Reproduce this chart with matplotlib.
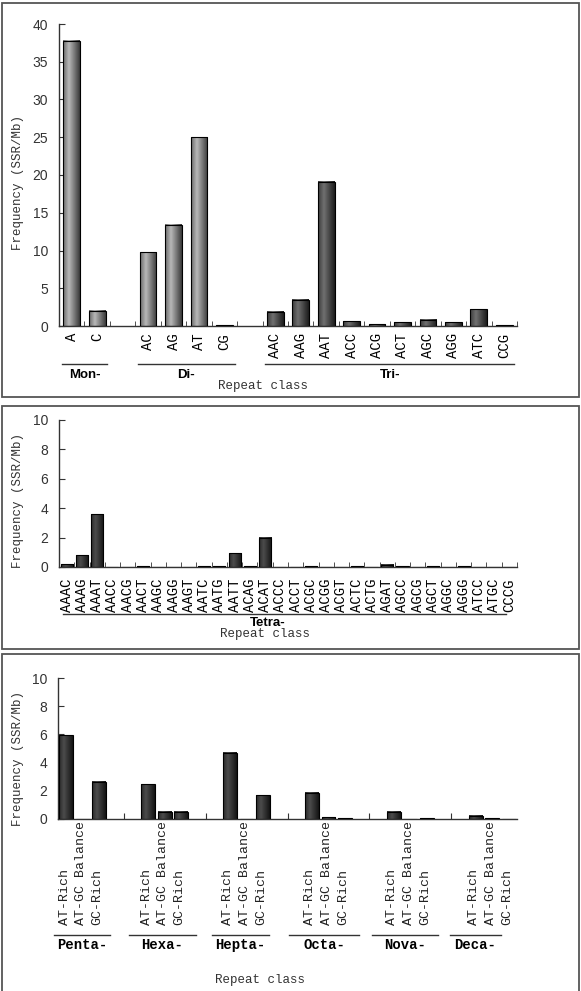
import numpy as np
import matplotlib
matplotlib.use('Agg')
import matplotlib.pyplot as plt
import matplotlib.transforms as mtransforms
from matplotlib.colors import LinearSegmentedColormap
from matplotlib.patches import Rectangle

# ---- data ----
mono_labels = ['A', 'C']
mono_vals = [37.8, 2.0]
di_labels = ['AC', 'AG', 'AT', 'CG']
di_vals = [9.8, 13.4, 25.0, 0.1]
tri_labels = ['AAC', 'AAG', 'AAT', 'ACC', 'ACG', 'ACT', 'AGC', 'AGG', 'ATC', 'CCG']
tri_vals = [1.9, 3.5, 19.1, 0.6, 0.2, 0.5, 0.8, 0.5, 2.2, 0.1]

tetra_labels = ['AAAC', 'AAAG', 'AAAT', 'AACC', 'AACG', 'AACT', 'AAGC', 'AAGG', 'AAGT',
                'AATC', 'AATG', 'AATT', 'ACAG', 'ACAT', 'ACCC', 'ACCT', 'ACGC', 'ACGG',
                'ACGT', 'ACTC', 'ACTG', 'AGAT', 'AGCC', 'AGCG', 'AGCT', 'AGGC', 'AGGG',
                'ATCC', 'ATGC', 'CCCG']
tetra_vals = [0.2, 0.8, 3.6, 0, 0, 0.04, 0, 0, 0, 0.04, 0.04, 0.95, 0.04, 2.0, 0, 0,
              0.04, 0, 0, 0.04, 0, 0.15, 0.04, 0, 0.04, 0, 0.04, 0, 0, 0]

long_classes = ['Penta-', 'Hexa-', 'Hepta-', 'Octa-', 'Nova-', 'Deca-']
comp_labels = ['AT-Rich', 'AT-GC Balance', 'GC-Rich']
penta_vals = [5.95, 0, 2.65]
hexa_vals = [2.45, 0.5, 0.5]
hepta_vals = [4.7, 0, 1.7]
octa_vals = [1.85, 0.12, 0.06]
nova_vals = [0.5, 0, 0.05]
deca_vals = [0.24, 0.05, 0]

W, H = 581, 991
fig = plt.figure(figsize=(W / 100, H / 100), dpi=100)

MONO = ['Liberation Mono', 'DejaVu Sans Mono']
SANS = ['Liberation Sans', 'DejaVu Sans']

light = LinearSegmentedColormap.from_list('light', [(0, '#6a6a6a'), (0.35, '#b8b8b8'), (1, '#3a3a3a')])
dark = LinearSegmentedColormap.from_list('dark', [(0, '#3c3c3c'), (0.35, '#707070'), (1, '#1c1c1c')])
vdark = LinearSegmentedColormap.from_list('vdark', [(0, '#2a2a2a'), (0.35, '#4c4c4c'), (1, '#141414')])
grad = np.linspace(0, 1, 64).reshape(1, -1)


def px_axes(left, right, y0, ytop):
    return fig.add_axes([left / W, 1 - y0 / H, (right - left) / W, (y0 - ytop) / H])


def fy(ypx):
    return 1 - ypx / H


def shaded_bars(ax, x, vals, width, cmap):
    bars = ax.bar(x, vals, width, facecolor='none', edgecolor='black', lw=0.8, zorder=3)
    for p in bars:
        if p.get_height() <= 0:
            continue
        ax.imshow(grad, extent=[p.get_x(), p.get_x() + p.get_width(), 0, p.get_height()],
                  cmap=cmap, aspect='auto', zorder=2, interpolation='bilinear')


def style_axes(ax, ymax, ystep):
    for s in ['top', 'right']:
        ax.spines[s].set_visible(False)
    for s in ['left', 'bottom']:
        ax.spines[s].set_color('#333333')
        ax.spines[s].set_linewidth(1.0)
    ax.set_ylim(0, ymax)
    ax.set_yticks(np.arange(0, ymax + 0.1, ystep))
    ax.tick_params(axis='y', direction='in', length=4, pad=8, labelsize=10, colors='#333333')
    for t in ax.get_yticklabels():
        t.set_family(SANS)


def frame(y_top, y_bot):
    fig.add_artist(Rectangle((2 / W, fy(y_bot)), 577 / W, (y_bot - y_top) / H,
                             transform=fig.transFigure, fill=False, ec='#555555', lw=1.3))


def group_line(ax, x0, x1, ypx):
    tr = mtransforms.blended_transform_factory(ax.transData, fig.transFigure)
    ax.plot([x0, x1], [fy(ypx), fy(ypx)], color='#333333', lw=1.0, transform=tr, clip_on=False)
    return tr


def ylabel(ypx):
    fig.text(18 / W, fy(ypx), 'Frequency (SSR/Mb)', rotation=90, ha='center', va='center',
             family=MONO, fontsize=9, color='#333333')


# ---- panel 1: mono / di / tri ----
frame(3, 397)
ax1 = px_axes(59, 517, 326, 24)
groups1 = [('Mon-', mono_labels, mono_vals, light),
           ('Di-', di_labels, di_vals, light),
           ('Tri-', tri_labels, tri_vals, dark)]
offset = 0
xt, xl = [], []
for name, labs, vals, cmap in groups1:
    x = offset + np.arange(len(labs))
    shaded_bars(ax1, x, vals, 0.66, cmap)
    xt += list(x)
    xl += labs
    tr = group_line(ax1, x[0] - 0.4, x[-1] + 0.4, 364)
    ax1.text((x[0] + x[-1]) / 2, fy(375), name, transform=tr, ha='center', va='center',
             family=SANS, fontweight='bold', fontsize=9.5)
    offset += len(labs) + 1
ax1.set_xlim(-0.5, offset - 1.5)
style_axes(ax1, 40, 5)
ax1.set_xticks(xt)
ax1.set_xticklabels(xl, rotation=90, family=MONO, fontsize=10)
ax1.set_xticks(np.arange(-0.5, offset - 1, 1), minor=True)
ax1.tick_params(axis='x', which='major', length=0, pad=5)
ax1.tick_params(axis='x', which='minor', direction='in', length=3.5, color='#333333')
fig.text(263 / W, fy(386), 'Repeat class', ha='center', va='center', family=MONO, fontsize=9, color='#333333')
ylabel(183)

# ---- panel 2: tetra ----
frame(406, 649)
ax2 = px_axes(59, 517, 567, 420)
x2 = np.arange(len(tetra_labels))
shaded_bars(ax2, x2, tetra_vals, 0.79, vdark)
ax2.set_xlim(-0.5, len(tetra_labels) - 0.5)
style_axes(ax2, 10, 2)
ax2.set_xticks(x2)
ax2.set_xticklabels(tetra_labels, rotation=90, family=MONO, fontsize=10)
ax2.set_xticks(np.arange(-0.5, len(tetra_labels), 1), minor=True)
ax2.tick_params(axis='x', which='major', length=0, pad=8)
ax2.tick_params(axis='x', which='minor', direction='in', length=3.5, color='#333333')
tr2 = group_line(ax2, -0.25, len(tetra_labels) - 1.2, 614)
ax2.text(13.2, fy(623), 'Tetra-', transform=tr2, ha='center', va='center',
         family=SANS, fontweight='bold', fontsize=9.5)
fig.text(265 / W, fy(634), 'Repeat class', ha='center', va='center', family=MONO, fontsize=9, color='#333333')
ylabel(500)

# ---- panel 3: penta .. deca ----
frame(654, 995)
ax3 = px_axes(58, 517, 819, 678)
long_vals = [penta_vals, hexa_vals, hepta_vals, octa_vals, nova_vals, deca_vals]
line_spans = [(-0.75, 2.65), (-1.15, 2.9), (-1.1, 2.35), (-1.4, 2.85), (-1.35, 2.7), (-1.6, 1.5)]
tr3 = mtransforms.blended_transform_factory(ax3.transData, fig.transFigure)
for g, (name, vals) in enumerate(zip(long_classes, long_vals)):
    x = 5 * g + np.arange(len(comp_labels))
    shaded_bars(ax3, x, vals, 0.85, vdark)
    for xi, lab in zip(x, comp_labels):
        ax3.text(xi - 0.1, fy(925), lab, transform=tr3, rotation=90, ha='center', va='bottom',
                 family=MONO, fontsize=9.5, color='#222222')
    s0, s1 = line_spans[g]
    group_line(ax3, 5 * g + s0, 5 * g + s1, 935)
    ax3.text(5 * g + (s0 + s1) / 2, fy(945), name, transform=tr3, ha='center', va='center',
             family=MONO, fontweight='bold', fontsize=10)
ax3.set_xlim(-0.5, 27.5)
style_axes(ax3, 10, 2)
ax3.set_xticks([3.5, 8.5, 13.5, 18.5, 23.5])
ax3.set_xticklabels([])
ax3.tick_params(axis='x', direction='in', length=4, color='#333333')
fig.text(260 / W, fy(980), 'Repeat class', ha='center', va='center', family=MONO, fontsize=9, color='#333333')
ylabel(758)

fig.savefig('out.png', dpi=100)
